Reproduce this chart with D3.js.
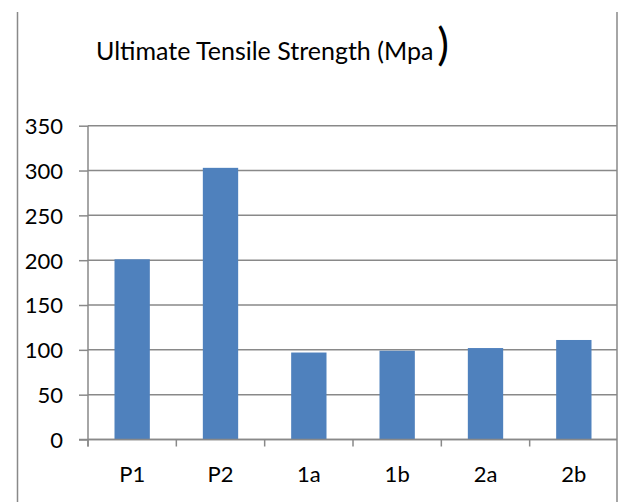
<!DOCTYPE html>
<html>
<head>
<meta charset="utf-8">
<script src="https://cdn.jsdelivr.net/npm/d3@7"></script>
<style>
  html, body { margin: 0; padding: 0; background: #ffffff; }
  svg { display: block; }
  text { font-family: Lato, "Open Sans", sans-serif; fill: #000; }
</style>
</head>
<body>
<script>
const categories = ["P1", "P2", "1a", "1b", "2a", "2b"];
const values = [201, 303, 97, 99, 102, 111];
const yTicks = [0, 50, 100, 150, 200, 250, 300, 350];
const titleText = "Ultimate Tensile Strength (Mpa";
const titleClose = ")";

const W = 619, H = 502;
const plot = { left: 88, right: 618, top: 125.7, bottom: 439.5 };
const frameLeft = 17.5, frameRight = 617, frameTop = 12;
const gridColor = "#898989";
const barColor = "#4F81BD";

const svg = d3.select("body").append("svg")
  .attr("width", W).attr("height", H);

svg.append("rect").attr("width", W).attr("height", H).attr("fill", "#fff");

// frame borders (left and right)
svg.append("line")
  .attr("x1", frameLeft).attr("x2", frameLeft)
  .attr("y1", frameTop).attr("y2", H)
  .attr("stroke", gridColor).attr("stroke-width", 1.5);
svg.append("line")
  .attr("x1", frameRight).attr("x2", frameRight)
  .attr("y1", frameTop).attr("y2", H)
  .attr("stroke", gridColor).attr("stroke-width", 1.5);

const y = d3.scaleLinear().domain([0, 350]).range([plot.bottom, plot.top]);
const x = d3.scaleBand().domain(categories)
  .range([plot.left, plot.right])
  .paddingInner(0.6).paddingOuter(0.3);
const step = x.step();

// gridlines
svg.append("g").selectAll("line").data(yTicks).join("line")
  .attr("x1", plot.left).attr("x2", frameRight)
  .attr("y1", d => y(d)).attr("y2", d => y(d))
  .attr("stroke", gridColor).attr("stroke-width", 1.5);

// y axis
const yAxis = svg.append("g")
  .attr("transform", `translate(${plot.left},0)`)
  .call(d3.axisLeft(y).tickValues(yTicks).tickSize(9).tickPadding(16).tickSizeOuter(0));
yAxis.select(".domain").remove();
yAxis.selectAll(".tick line").attr("stroke", gridColor).attr("stroke-width", 1.5);
yAxis.selectAll(".tick text")
  .attr("font-family", "Lato, sans-serif")
  .attr("font-size", 22).attr("fill", "#000").attr("dy", "0.36em");

// y axis line
svg.append("line")
  .attr("x1", plot.left).attr("x2", plot.left)
  .attr("y1", plot.top).attr("y2", plot.bottom + 7)
  .attr("stroke", gridColor).attr("stroke-width", 1.5);

// bars
svg.append("g").selectAll("rect").data(values).join("rect")
  .attr("x", (d, i) => x(categories[i]))
  .attr("width", x.bandwidth())
  .attr("y", d => y(d))
  .attr("height", d => y(0) - y(d))
  .attr("fill", barColor);

// x axis line
svg.append("line")
  .attr("x1", plot.left - 9).attr("x2", frameRight)
  .attr("y1", y(0)).attr("y2", y(0))
  .attr("stroke", gridColor).attr("stroke-width", 1.5);

// x tick marks at category boundaries
svg.append("g").selectAll("line").data(categories).join("line")
  .attr("x1", d => x(d) - step * 0.3).attr("x2", d => x(d) - step * 0.3)
  .attr("y1", y(0)).attr("y2", y(0) + 7)
  .attr("stroke", gridColor).attr("stroke-width", 1.5);

// x labels
const xAxis = svg.append("g")
  .attr("transform", `translate(0,${y(0)})`)
  .call(d3.axisBottom(x).tickSize(0).tickPadding(0));
xAxis.select(".domain").remove();
xAxis.selectAll(".tick text")
  .attr("font-family", "Lato, sans-serif")
  .attr("font-size", 22).attr("fill", "#000")
  .attr("y", 42).attr("dy", 0);

// title
const title = svg.append("text")
  .attr("x", 96).attr("y", 60)
  .attr("font-size", 25);
title.append("tspan").text(titleText);
title.append("tspan").attr("font-size", 44).attr("dx", 4).attr("dy", 0).text(titleClose);
</script>
</body>
</html>
